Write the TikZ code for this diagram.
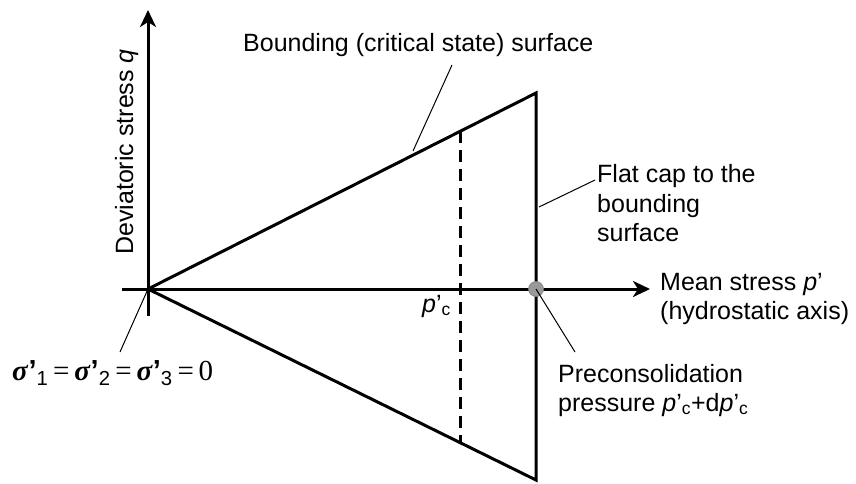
\documentclass[tikz,border=0pt]{standalone}
\usepackage{fontspec}
\setmainfont{Liberation Sans}
\newfontfamily\serifsym{Liberation Serif}
\usetikzlibrary{arrows.meta}
\newcommand{\sigp}[1]{{\serifsym\bfseries\itshape σ}\textbf{’}\textsubscript{#1}}
\newcommand{\eqs}{\,{\serifsym =}\,}
\begin{document}
\begin{tikzpicture}[x=1pt,y=-1pt,
  thickline/.style={line width=3pt},
  axisline/.style={line width=3pt,-{Stealth[length=17pt,width=16pt,inset=5pt]}},
  leader/.style={line width=1pt},
  lbl/.style={inner sep=0pt,anchor=base west,font=\fontsize{25}{29.5}\selectfont}]
\path[use as bounding box] (0,0) rectangle (856,483);
% key points
\coordinate (O) at (148,289);
\coordinate (U) at (536,93);
\coordinate (L) at (536,480);
\coordinate (DT) at (460,131.4);
\coordinate (DB) at (460,442.6);
\coordinate (Yb) at (148,316);
\coordinate (Yt) at (148,10);
\coordinate (Xl) at (122,289);
\coordinate (Xr) at (650,289);
% surfaces
\draw[thickline,line join=miter] (O) -- (U) -- (L) -- cycle;
\draw[thickline,dash pattern=on 12pt off 7pt] (DT) -- (DB);
% axes
\draw[axisline] (Yb) -- (Yt);
\draw[axisline] (Xl) -- (Xr);
% preconsolidation point
\node[circle,fill=black!40,draw=black!50,line width=0.6pt,minimum size=15pt,inner sep=0pt] (P) at (536,289) {};
% labels
\node[lbl,rotate=90] (qlab) at (133,255) {Deviatoric stress \textit{q}};
\node[lbl] (bnd) at (243,51) {Bounding (critical state) surface};
\node[lbl] (fc1) at (597,182) {Flat cap to the};
\node[lbl] (fc2) at (597,212) {bounding};
\node[lbl] (fc3) at (597,241) {surface};
\node[lbl] (ms1) at (660,290) {Mean stress \textit{p}’};
\node[lbl] (ms2) at (660,319) {(hydrostatic axis)};
\node[lbl] (pc) at (422,312) {\textit{p}’\textsubscript{c}};
\node[lbl] (pr1) at (558,382) {Preconsolidation};
\node[lbl] (pr2) at (558,411) {pressure \textit{p}’\textsubscript{c}+d\textit{p}’\textsubscript{c}};
\node[inner sep=0pt,anchor=base west,font=\fontsize{29}{33}\selectfont] (sig) at (12,380) {\sigp{1}\eqs\sigp{2}\eqs\sigp{3}\eqs{\serifsym 0}};
% leaders
\coordinate (b1) at (452,65);
\coordinate (b2) at (413,151);
\coordinate (f1) at (595,180);
\coordinate (f2) at (539,207);
\coordinate (p2) at (575,352);
\coordinate (s2) at (120,352);
\draw[leader] (b1) -- (b2);
\draw[leader] (f1) -- (f2);
\draw[leader] (P.center) -- (p2);
\draw[leader] (O) -- (s2);
\end{tikzpicture}
\end{document}
